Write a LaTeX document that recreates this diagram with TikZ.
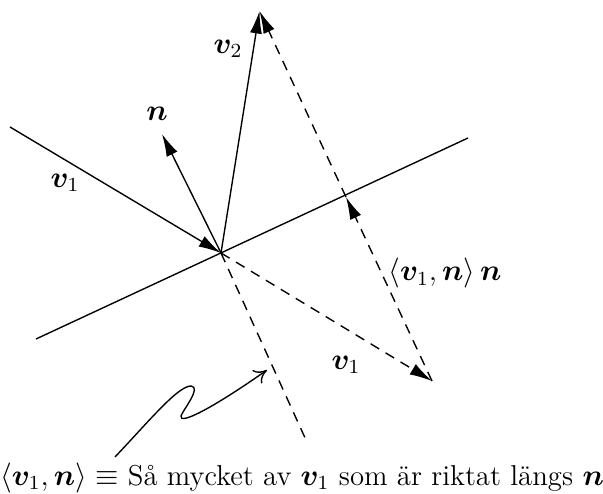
\documentclass[tikz,border=0pt]{standalone}
\usepackage{fontspec}
\usepackage{amsmath,bm}
\usetikzlibrary{arrows.meta}
\begin{document}
\begin{tikzpicture}[x=0.4pt,y=-0.4pt,
  font=\fontsize{11.5pt}{13.8pt}\selectfont,
  ln/.style={line width=0.55pt},
  vec/.style={line width=0.55pt,-{Latex[length=9pt,width=4.8pt]}},
  dvec/.style={vec,dash pattern=on 4pt off 3pt},
  dln/.style={line width=0.55pt,dash pattern=on 4pt off 3pt},
  lbl/.style={inner sep=1pt}
]
\useasboundingbox (0,0) rectangle (603,494);
\coordinate (O) at (221,253);
\coordinate (S1) at (36,339);
\coordinate (S2) at (468,138);
\coordinate (A) at (10,127);
\coordinate (N) at (162,134);
\coordinate (V2) at (259.5,11);
\coordinate (T) at (432,381);
\coordinate (M) at (346,197);
\coordinate (E) at (306,440);
\coordinate (Q0) at (115,457);
\coordinate (Q1) at (267,370);
% surface
\draw[ln] (S1) -- (S2);
% vectors
\draw[vec] (A) -- (O);
\draw[vec] (O) -- (N);
\draw[vec] (O) -- (V2);
\draw[dvec] (O) -- (T);
\draw[dvec] (T) -- (M);
\draw[dvec] (M) -- (V2);
\draw[dln] (O) -- (E);
% squiggle
\draw[line width=0.55pt,-{To[length=5pt,width=6.5pt]}] (Q0) .. controls (150,420) and (178,386) .. (191,386) .. controls (202,387) and (183,410) .. (181,416) .. controls (179,425) and (210,410) .. (Q1);
% labels
\node[lbl] (lv2) at (228,49) {$\bm v_2$};
\node[lbl] (ln) at (157,114) {$\bm n$};
\node[lbl] (lv1) at (65,183) {$\bm v_1$};
\node[lbl] (lp) at (445,273) {$\langle \bm v_1, \bm n\rangle\, \bm n$};
\node[lbl] (lv1b) at (346,365) {$\bm v_1$};
\node[lbl] (txt) at (302,478) {$\langle \bm v_1, \bm n\rangle \equiv$ Så mycket av $\bm v_1$ som är riktat längs $\bm n$};
\end{tikzpicture}
\end{document}
